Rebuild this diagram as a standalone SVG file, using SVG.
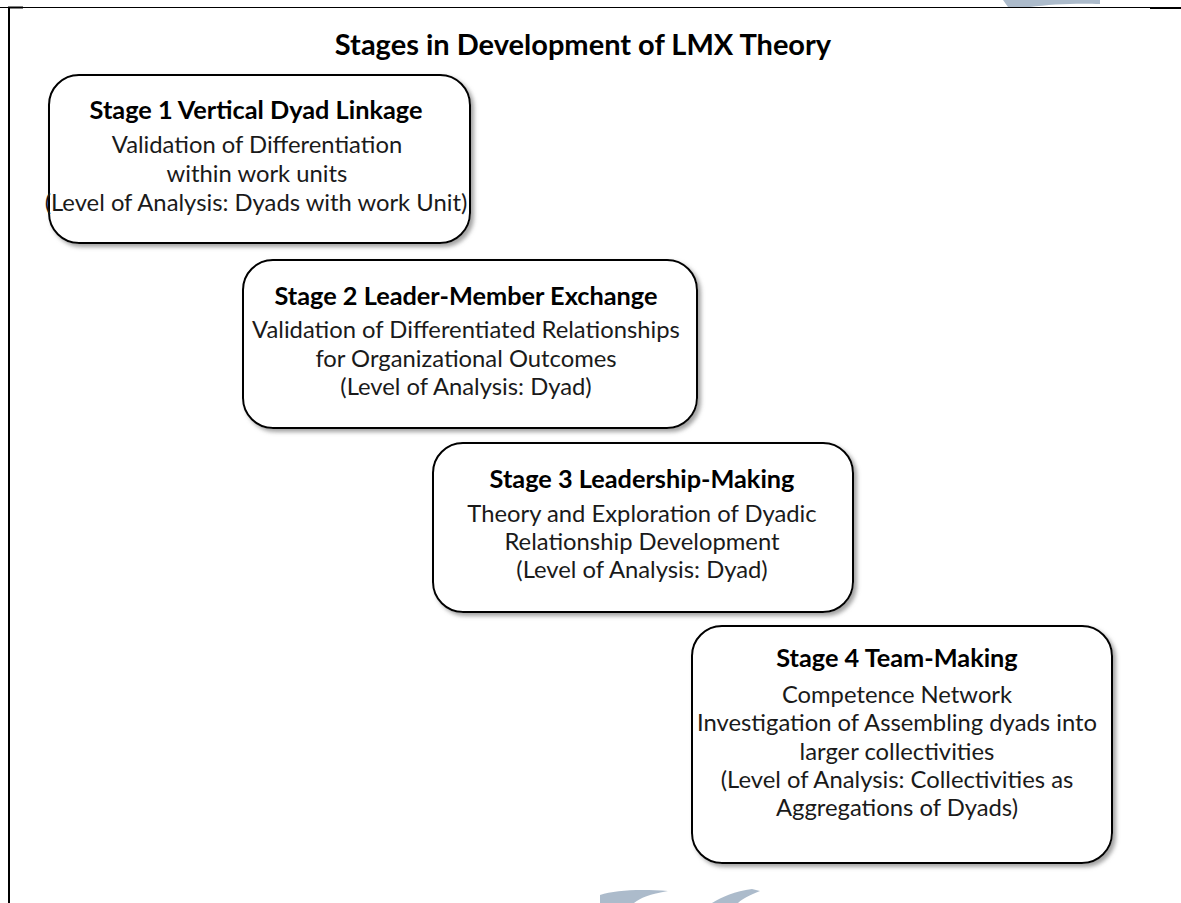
<svg xmlns="http://www.w3.org/2000/svg" width="1181" height="903" viewBox="0 0 1181 903">
<defs>
<filter id="sh" x="-10%" y="-10%" width="130%" height="130%">
<feDropShadow dx="3" dy="3" stdDeviation="2" flood-color="#7a7a7a" flood-opacity="0.7"/>
</filter>
<style>
.box{fill:#ffffff;stroke:#000000;stroke-width:2;filter:url(#sh)}
.t{font-family:Lato,"Open Sans","Liberation Sans",sans-serif;font-size:23.8px;fill:#1a1a1a;text-anchor:middle}
.b{font-weight:bold;font-size:25.3px;fill:#000}
.title{font-family:Lato,"Open Sans","Liberation Sans",sans-serif;font-weight:bold;font-size:29px;fill:#000;text-anchor:middle}
.wm{fill:#9eafc2;opacity:0.85}
</style>
</defs>
<rect width="1181" height="903" fill="#ffffff"/>
<g id="watermark">
<path class="wm" d="M1003,0 L1008,7 L1030,7 C1050,4 1080,3 1100,4 L1100,0 Z"/>
<path class="wm" d="M600,903 L600,895 C615,890 640,889 668,891 C650,894 640,898 634,903 Z"/>
<path class="wm" d="M712,903 C722,897 735,891 752,889 L760,891 C750,895 742,899 738,903 Z"/>
</g>
<g id="frame" stroke="#000">
<line x1="0" y1="7.5" x2="1150" y2="7.5" stroke-width="1"/>
<line x1="1150" y1="8" x2="1181" y2="8" stroke-width="2"/>
<line x1="9" y1="7" x2="9" y2="903" stroke-width="2"/>
<line x1="8" y1="7.5" x2="23" y2="7.5" stroke-width="2"/>
</g>
<text id="title" class="title" x="583" y="55">Stages in Development of LMX Theory</text>
<g id="connectors"></g>
<g id="stage1">
<rect class="box" x="49" y="75" width="421" height="168" rx="30" ry="30"/>
<text class="t b" x="256" y="119">Stage 1 Vertical Dyad Linkage</text>
<text class="t" x="257" y="153">Validation of Differentiation</text>
<text class="t" x="257" y="182">within work units</text>
<text class="t" x="256" y="211">(Level of Analysis: Dyads with work Unit)</text>
</g>
<g id="stage2">
<rect class="box" x="243" y="260" width="454" height="168" rx="30" ry="30"/>
<text class="t b" x="466" y="305">Stage 2 Leader-Member Exchange</text>
<text class="t" x="466" y="338">Validation of Differentiated Relationships</text>
<text class="t" x="466" y="367">for Organizational Outcomes</text>
<text class="t" x="466" y="395">(Level of Analysis: Dyad)</text>
</g>
<g id="stage3">
<rect class="box" x="433" y="443" width="420" height="169" rx="30" ry="30"/>
<text class="t b" x="642" y="488">Stage 3 Leadership-Making</text>
<text class="t" x="642" y="522">Theory and Exploration of Dyadic</text>
<text class="t" x="642" y="550">Relationship Development</text>
<text class="t" x="642" y="578">(Level of Analysis: Dyad)</text>
</g>
<g id="stage4">
<rect class="box" x="692" y="626" width="420" height="237" rx="30" ry="30"/>
<text class="t b" x="897" y="667">Stage 4 Team-Making</text>
<text class="t" x="897" y="703">Competence Network</text>
<text class="t" x="897" y="731">Investigation of Assembling dyads into</text>
<text class="t" x="897" y="760">larger collectivities</text>
<text class="t" x="897" y="788">(Level of Analysis: Collectivities as</text>
<text class="t" x="897" y="816">Aggregations of Dyads)</text>
</g>
</svg>
